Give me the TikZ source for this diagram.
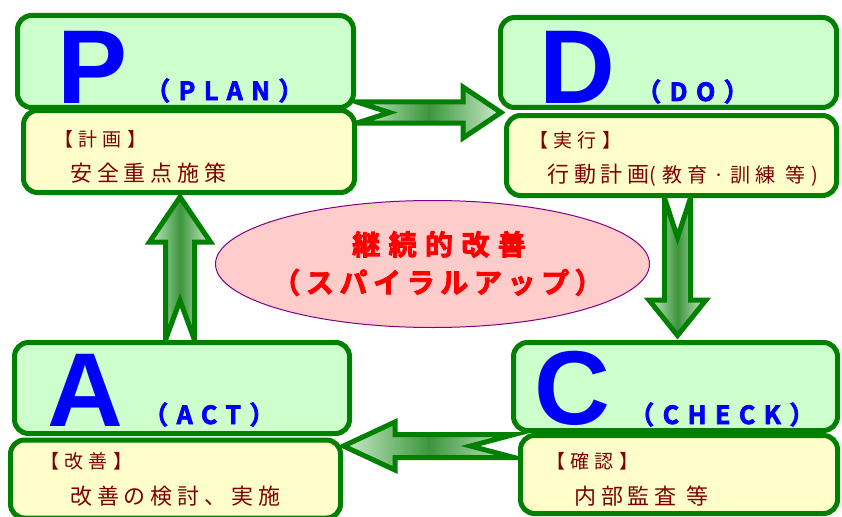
\documentclass[tikz,border=0pt]{standalone}
\usepackage{fontspec}
\setmainfont{Liberation Sans}
\newfontfamily\headjp[LetterSpace=28]{Noto Sans CJK JP}
\newfontfamily\bodyjp[LetterSpace=22]{Noto Sans CJK JP}
\newfontfamily\smalljp[LetterSpace=28]{Noto Sans CJK JP}
\newfontfamily\titlejp[LetterSpace=30, BoldFont={Noto Sans CJK JP Bold}, BoldFeatures={FakeBold=3}]{Noto Sans CJK JP}
\newfontfamily\titlejpb[LetterSpace=20, BoldFont={Noto Sans CJK JP Bold}, BoldFeatures={FakeBold=3}]{Noto Sans CJK JP}
\newfontfamily\enjp[LetterSpace=34, BoldFont={Noto Sans CJK JP Bold}, BoldFeatures={FakeBold=3}]{Noto Sans CJK JP}
\usetikzlibrary{calc,shapes.geometric}

\definecolor{boxline}{RGB}{0,128,0}
\definecolor{topfill}{RGB}{204,255,204}
\definecolor{botfill}{RGB}{255,255,204}
\definecolor{lbl}{RGB}{128,0,0}
\definecolor{arrdark}{RGB}{60,150,60}
\definecolor{arrlight}{RGB}{205,235,205}
\definecolor{ellfill}{RGB}{255,204,204}
\definecolor{ellline}{RGB}{128,0,128}

\tikzset{
  topbox/.style={rectangle, draw=boxline, line width=5pt, fill=topfill, rounded corners=14pt, inner sep=0pt},
  botbox/.style={rectangle, draw=boxline, line width=5pt, fill=botfill, rounded corners=14pt, inner sep=0pt},
  bigletter/.style={font=\fontsize{105}{105}\selectfont\bfseries, text=blue, inner sep=0pt, anchor=base west},
  enlabel/.style={font=\enjp\fontsize{25}{25}\selectfont\bfseries, text=blue, inner sep=0pt, anchor=base west},
  headlbl/.style={font=\headjp\fontsize{19}{19}\selectfont, text=lbl, inner sep=0pt, anchor=base west},
  bodylbl/.style={font=\bodyjp\fontsize{22}{22}\selectfont, text=lbl, inner sep=0pt, anchor=base west},
  titlelbl/.style={font=\titlejp\fontsize{28}{28}\selectfont\bfseries, text=red, inner sep=0pt, anchor=base},
  blockarrow/.style={draw=boxline, line width=5pt, line join=miter, miter limit=10,
    left color=arrlight, right color=arrlight, middle color=arrdark},
}

% tail, angle, length, body half, head half, head length, notch depth
\newcommand\blockarr[7]{%
  \begin{scope}[shift={(#1)}, rotate=#2]
    \draw[blockarrow] (0,-#4) -- ({#3-#6},-#4) -- ({#3-#6},-#5) -- (#3,0)
      -- ({#3-#6},#5) -- ({#3-#6},#4) -- (0,#4) -- (#7,0) -- cycle;
  \end{scope}}

\begin{document}
\begin{tikzpicture}[x=1pt, y=-1pt]
\useasboundingbox (0,0) rectangle (842,516);
\clip (0,0) rectangle (842,516);

% box nodes (positions only, drawn later)
\path
  node[botbox, draw=none, fill=none, minimum width=331pt, minimum height=82pt] (Pbot) at (189,151.5) {}
  node[topbox, draw=none, fill=none, minimum width=336pt, minimum height=92pt] (Ptop) at (185.5,61.5) {}
  node[botbox, draw=none, fill=none, minimum width=330pt, minimum height=80pt] (Dbot) at (671.5,155.5) {}
  node[topbox, draw=none, fill=none, minimum width=336pt, minimum height=90pt] (Dtop) at (668.5,62.5) {}
  node[botbox, draw=none, fill=none, minimum width=317pt, minimum height=78pt] (Cbot) at (679,474.5) {}
  node[topbox, draw=none, fill=none, minimum width=324pt, minimum height=88pt] (Ctop) at (675.5,386.5) {}
  node[botbox, draw=none, fill=none, minimum width=330pt, minimum height=78pt] (Abot) at (175.5,479) {}
  node[topbox, draw=none, fill=none, minimum width=335pt, minimum height=91pt] (Atop) at (182,388) {};

% arrow tails
\coordinate (a1) at ($(Ptop.south east)+(1,2.5)$);
\coordinate (a2) at ($(Dbot.south)+(6,0)$);
\coordinate (a3) at ($(Ctop.south west)+(3,13)$);
\coordinate (a4) at ($(Atop.north)+(-2,0)$);

\blockarr{a1}{0}{144}{10.5}{25.5}{38}{32.5}
\blockarr{a2}{-90}{137.5}{13}{28.5}{35.5}{39.5}
\blockarr{a3}{180}{170.5}{11.5}{24}{51.5}{43.5}
\blockarr{a4}{90}{143}{14.5}{30.5}{45}{39.5}

% boxes drawn
\node[botbox, minimum width=331pt, minimum height=82pt] at (Pbot) {};
\node[topbox, minimum width=336pt, minimum height=92pt] at (Ptop) {};
\node[botbox, minimum width=330pt, minimum height=80pt] at (Dbot) {};
\node[topbox, minimum width=336pt, minimum height=90pt] at (Dtop) {};
\node[botbox, minimum width=317pt, minimum height=78pt] at (Cbot) {};
\node[topbox, minimum width=324pt, minimum height=88pt] at (Ctop) {};
\node[botbox, minimum width=330pt, minimum height=78pt] at (Abot) {};
\node[topbox, minimum width=335pt, minimum height=91pt] at (Atop) {};

% ellipse
\node[ellipse, draw=ellline, line width=1pt, fill=ellfill, minimum width=434pt, minimum height=127pt, inner sep=0pt] (E) at (432.5,264) {};
\node[titlelbl] (E1) at (439,255) {継続的改善};
\node[titlelbl, font=\titlejpb\fontsize{28}{28}\selectfont\bfseries] (E2) at (437.5,293) {（スパイラルアップ）};

% big letters
\node[bigletter] (Pl) at (57,103) {P};
\node[bigletter] (Dl) at (539,103) {D};
\node[bigletter] (Cl) at (534,424) {C};
\node[bigletter] (Al) at (47,426) {A};

\node[enlabel] (Pe) at (145,100) {（PLAN）};
\node[enlabel] (De) at (636,101) {（DO）};
\node[enlabel] (Ce) at (629,424) {（CHECK）};
\node[enlabel] (Ae) at (143,424) {（ACT）};

% labels
\node[headlbl] (Ph) at (54,146) {【計画】};
\node[bodylbl] (Pb) at (70,181.5) {安全重点施策};
\node[headlbl] (Dh) at (529,147) {【実行】};
\node[bodylbl] (Db) at (547,182) {行動計画{\smalljp\fontsize{20}{20}\selectfont (教育·訓練 等)}};
\node[headlbl] (Ch) at (546,468) {【確認】};
\node[bodylbl] (Cb) at (574,504) {内部監査 等};
\node[headlbl] (Ah) at (40,468) {【改善】};
\node[bodylbl] (Ab) at (70,504) {改善の検討、実施};
\end{tikzpicture}
\end{document}
